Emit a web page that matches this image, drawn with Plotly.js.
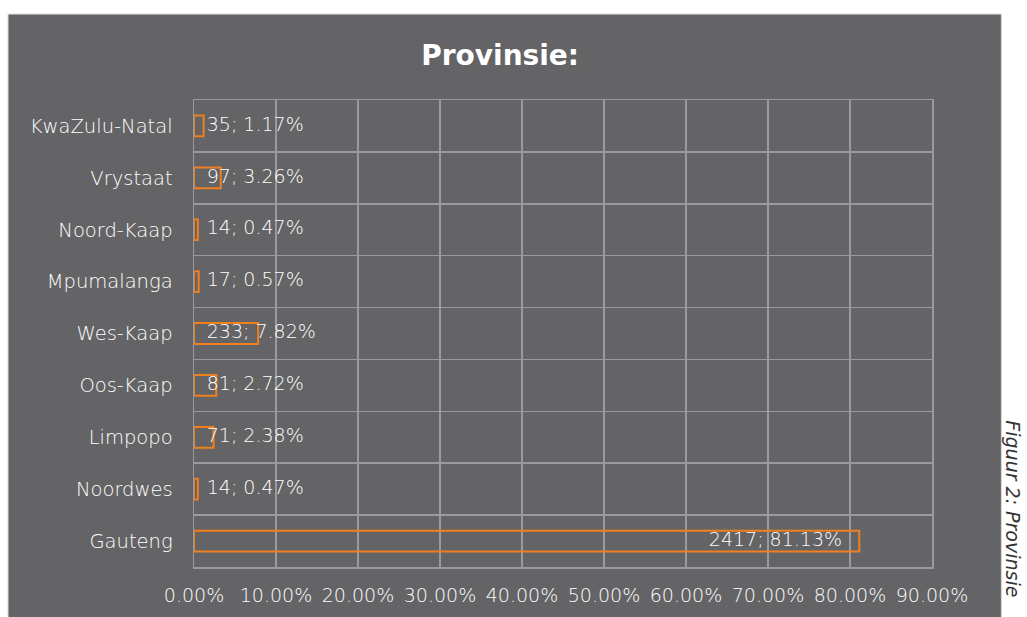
<!DOCTYPE html>
<html>
<head>
<meta charset="utf-8">
<script src="https://cdn.plot.ly/plotly-3.0.1.min.js"></script>
<style>
html,body{margin:0;padding:0;background:#ffffff;}
#chart{width:1027px;height:617px;}
</style>
</head>
<body>
<div id="chart"></div>
<script>
// Data (Plotly draws the first category at the bottom)
const provinces = ["Gauteng", "Noordwes", "Limpopo", "Oos-Kaap", "Wes-Kaap", "Mpumalanga", "Noord-Kaap", "Vrystaat", "KwaZulu-Natal"];
const counts = [2417, 14, 71, 81, 233, 17, 14, 97, 35];
const percents = [81.13, 0.47, 2.38, 2.72, 7.82, 0.57, 0.47, 3.26, 1.17];
const xTickVals = [0, 10, 20, 30, 40, 50, 60, 70, 80, 90];
const xTickText = xTickVals.map(v => v.toFixed(2) + "%");

const labels = counts.map((c, i) => c + "; " + percents[i].toFixed(2) + "%");
const FONT = "DejaVu Sans";
const ORANGE = "#F07F1E";
const GRID = "#9a9a9c";

const bars = {
  type: "bar",
  orientation: "h",
  y: provinces,
  x: percents,
  width: 0.4,
  marker: {color: "rgba(0,0,0,0)", line: {color: ORANGE, width: 2}},
  hoverinfo: "skip",
  showlegend: false
};

// label placement: large bars get the label at the inside end, small ones just past the axis
const bigThreshold = 20;
const insidePad = 2.1;
const smallStart = 1.55;
const labelX = percents.map(p => p > bigThreshold ? p - insidePad : smallStart);
const labelPos = percents.map(p => p > bigThreshold ? "middle left" : "middle right");
const labelTrace = {
  type: "scatter",
  mode: "text",
  y: provinces,
  x: labelX,
  text: labels,
  textposition: labelPos,
  textfont: {family: FONT, size: 19, weight: 300, color: "#ffffff"},
  hoverinfo: "skip",
  showlegend: false,
  cliponaxis: false
};

const layout = {
  width: 1027,
  height: 617,
  paper_bgcolor: "#ffffff",
  plot_bgcolor: "rgba(0,0,0,0)",
  margin: {l: 194, r: 95, t: 100, b: 50},
  font: {family: FONT, color: "#ffffff"},
  title: {
    text: "<b>Provinsie:</b>",
    font: {family: FONT, size: 28, color: "#ffffff"},
    xref: "container", yref: "container",
    x: 0.487, xanchor: "center",
    y: 0.911, yanchor: "middle"
  },
  xaxis: {
    range: [0, 90],
    tickvals: xTickVals,
    ticktext: xTickText,
    showgrid: true,
    gridcolor: GRID,
    gridwidth: 1.5,
    zeroline: false,
    showline: true,
    linecolor: GRID,
    linewidth: 1.5,
    mirror: true,
    ticks: "",
    ticklabelstandoff: 11,
    tickfont: {family: FONT, size: 19, weight: 300, color: "#ffffff"},
    fixedrange: true
  },
  yaxis: {
    type: "category",
    tickson: "boundaries",
    showgrid: true,
    gridcolor: GRID,
    gridwidth: 1.5,
    showline: true,
    linecolor: GRID,
    linewidth: 1.5,
    mirror: true,
    ticks: "",
    ticklabelstandoff: 16,
    tickfont: {family: FONT, size: 19.5, weight: 300, color: "#ffffff"},
    fixedrange: true
  },
  shapes: [{
    type: "rect",
    xref: "paper", yref: "paper",
    x0: -0.252, x1: 1.094,
    y0: -0.2, y1: 1.184,
    fillcolor: "#646466",
    line: {color: "#d9d9d9", width: 1},
    layer: "below"
  }],
  annotations: [{
    text: "<i>Figuur 2: Provinsie</i>",
    xref: "paper", yref: "paper",
    x: 1.11, y: 0.319,
    xanchor: "center", yanchor: "top",
    textangle: 90,
    showarrow: false,
    font: {family: FONT, size: 19, weight: 300, color: "#333333"}
  }]
};

Plotly.newPlot("chart", [bars, labelTrace], layout, {displayModeBar: false, staticPlot: true});
</script>
</body>
</html>
